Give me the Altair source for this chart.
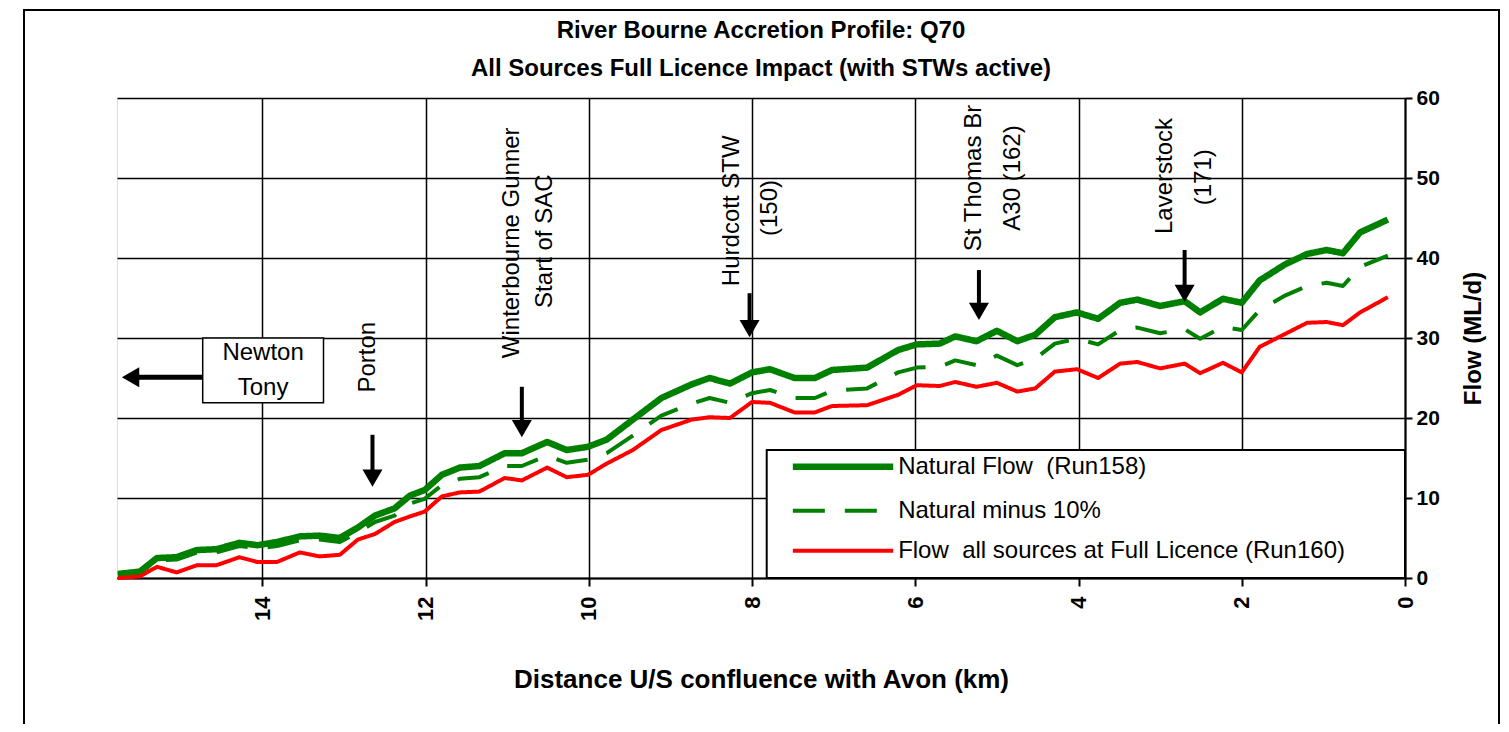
import altair as alt
import pandas as pd

# ---------------- data ----------------
km = [15.77, 15.50, 15.29, 15.05, 14.80, 14.56, 14.28, 14.06, 13.82, 13.54,
      13.30, 13.05, 12.83, 12.62, 12.38, 12.19, 12.01, 11.80, 11.58, 11.34,
      11.03, 10.82, 10.51, 10.27, 10.01, 9.78, 9.46, 9.11, 8.74, 8.52,
      8.27, 8.00, 7.78, 7.48, 7.23, 7.02, 6.59, 6.21, 5.98, 5.70,
      5.51, 5.25, 5.00, 4.75, 4.53, 4.29, 4.02, 3.76, 3.49, 3.28,
      3.00, 2.70, 2.51, 2.23, 2.00, 1.78, 1.47, 1.20, 0.96, 0.76,
      0.55, 0.21]

natural_flow = [0.5, 0.8, 2.5, 2.6, 3.5, 3.6, 4.4, 4.1, 4.5, 5.2,
                5.3, 5.0, 6.3, 7.8, 8.7, 10.3, 11.0, 12.9, 13.8, 14.0,
                15.6, 15.6, 17.0, 16.0, 16.4, 17.3, 19.8, 22.5, 24.2, 25.0,
                24.3, 25.7, 26.1, 25.0, 25.0, 26.0, 26.3, 28.5, 29.2, 29.3,
                30.2, 29.6, 30.9, 29.6, 30.4, 32.6, 33.2, 32.4, 34.4, 34.8,
                34.0, 34.6, 33.2, 34.9, 34.4, 37.2, 39.2, 40.5, 41.0, 40.6,
                43.2, 44.8]

natural_minus_10 = [0.4, 0.7, 2.2, 2.3, 3.2, 3.2, 4.0, 3.7, 4.0, 4.7,
                    4.8, 4.5, 5.7, 7.0, 7.8, 9.3, 9.9, 11.6, 12.4, 12.6,
                    14.0, 14.0, 15.3, 14.4, 14.8, 15.6, 17.8, 20.3, 21.8, 22.5,
                    21.9, 23.1, 23.5, 22.5, 22.5, 23.4, 23.7, 25.7, 26.3, 26.4,
                    27.2, 26.6, 27.8, 26.6, 27.4, 29.3, 29.9, 29.2, 31.0, 31.3,
                    30.6, 31.1, 29.9, 31.4, 31.0, 33.5, 35.3, 36.5, 36.9, 36.5,
                    38.9, 40.3]

full_licence = [0.0, 0.2, 1.4, 0.7, 1.6, 1.6, 2.6, 2.0, 2.0, 3.2,
                2.7, 2.9, 4.8, 5.5, 7.0, 7.7, 8.3, 10.2, 10.7, 10.8,
                12.5, 12.2, 13.8, 12.6, 12.9, 14.3, 16.0, 18.5, 19.8, 20.1,
                20.0, 22.0, 21.9, 20.7, 20.7, 21.5, 21.6, 22.9, 24.1, 24.0,
                24.5, 23.9, 24.4, 23.3, 23.7, 25.8, 26.1, 25.0, 26.8, 27.0,
                26.2, 26.8, 25.6, 26.9, 25.7, 28.9, 30.5, 31.9, 32.0, 31.6,
                33.2, 35.1]

series_names = ["Natural Flow\u00a0 (Run158)",
                "Natural minus 10%",
                "Flow\u00a0 all sources at Full Licence (Run160)"]
series_values = [natural_flow, natural_minus_10, full_licence]

title_lines = ["River Bourne Accretion Profile: Q70",
               "All Sources Full Licence Impact (with STWs active)"]

x_ticks = [0, 2, 4, 6, 8, 10, 12, 14]
y_ticks = [0, 10, 20, 30, 40, 50, 60]

# annotation labels (rotated)
ann_text = ["Porton", "Winterbourne Gunner", "Start of SAC", "Hurdcott STW", "(150)",
            "St Thomas Br", "A30 (162)", "Laverstock", "(171)"]
ann_km = [12.71, 10.94, 10.54, 8.25, 7.78, 5.28, 4.80, 2.94, 2.46]
ann_flow = [27.6, 41.9, 42.1, 45.9, 46.25, 50.0, 50.0, 50.25, 50.1]

# location arrows (pointing down)
arrow_km = [12.65, 10.82, 8.03, 5.22, 2.70]
arrow_top = [17.9, 23.9, 35.6, 38.5, 41.0]
arrow_tip = [11.4, 17.6, 30.1, 32.25, 34.5]

# Newton Tony box + arrow pointing left (upstream)
box_text = ["Newton", "Tony"]
box_text_flow = [28.1, 23.75]
box_km = [14.73, 13.25]
box_flow = [30.0, 21.9]
left_arrow_km = [14.73, 15.72]
left_arrow_flow = 25.1

# ---------------- styling ----------------
FONT = "Liberation Sans"
series_colors = ["#008000", "#008000", "#FF0000"]
series_dash = [[1, 0], [32, 20], [1, 0]]
series_width = [6.5, 4, 4]
legend_flow = [13.9, 8.4, 3.4]
legend_line_km = [7.50, 6.27]
legend_text_km = 6.21
legend_box_km = [7.82, 0.0]
legend_box_flow = [16.0, 0.0]

PLOT_W, PLOT_H = 1288, 480
PX_PER_KM = 81.6
PX_PER_FLOW = 8.0
HEAD_SIZE = 400
HEAD_H = (HEAD_SIZE ** 0.5) / 2 * 0.866

x_scale = alt.Scale(domain=[0, 15.78], reverse=True, nice=False, zero=False)
y_scale = alt.Scale(domain=[0, 60], nice=False)

x_axis = alt.Axis(values=x_ticks, format="d", labelAngle=270, labelFontSize=22,
                  labelFontWeight="bold", labelColor="black", labelFont=FONT,
                  labelPadding=10, labelOverlap=False, labelFlush=False,
                  tickSize=8, tickColor="black", tickWidth=2,
                  domainColor="black", domainWidth=2,
                  grid=True, gridColor="black", gridWidth=1.5, gridOpacity=1,
                  title="Distance U/S confluence with Avon (km)", titleFontSize=26,
                  titleFontWeight="bold", titleColor="black", titleFont=FONT,
                  titlePadding=46)
y_axis = alt.Axis(orient="right", values=y_ticks, format="d", labelFontSize=21,
                  labelFontWeight="bold", labelColor="black", labelFont=FONT,
                  labelPadding=4, labelOverlap=False, labelFlush=False,
                  tickSize=7, tickColor="black", tickWidth=2,
                  domainColor="black", domainWidth=2,
                  grid=True, gridColor="black", gridWidth=1.5, gridOpacity=1,
                  title="Flow (ML/d)", titleFontSize=24, titleFontWeight="bold",
                  titleColor="black", titleFont=FONT, titleAngle=270,
                  titleBaseline="top", titlePadding=22)


def X(field):
    return alt.X(field, type="quantitative", scale=x_scale, axis=x_axis)


def Y(field):
    return alt.Y(field, type="quantitative", scale=y_scale, axis=y_axis)


layers = []

# outer chart-area frame
frame = alt.Chart(pd.DataFrame({"k": [0]})).mark_rect(
    fillOpacity=0, stroke="black", strokeWidth=2
).encode(x=alt.value(-93), x2=alt.value(1382), y=alt.value(-88), y2=alt.value(700))
layers.append(frame)

# chart title (two bold lines above the plot)
for line, dy in zip(title_lines, [-67, -29]):
    layers.append(
        alt.Chart(pd.DataFrame({"t": [line]})).mark_text(
            align="center", baseline="middle", fontSize=24, fontWeight="bold",
            font=FONT, color="black"
        ).encode(x=alt.value(PLOT_W / 2), y=alt.value(dy), text="t")
    )

# series lines
for name, vals, col, dash, w in zip(series_names, series_values, series_colors,
                                      series_dash, series_width):
    df = pd.DataFrame({"km": km, "flow": vals, "series": name})
    layers.append(
        alt.Chart(df).mark_line(color=col, strokeDash=dash, strokeWidth=w,
                                strokeJoin="round")
        .encode(x=X("km"), y=Y("flow"))
    )

# legend box
lb = pd.DataFrame({"km": [legend_box_km[0]], "km2": [legend_box_km[1]],
                   "flow": [legend_box_flow[0]], "flow2": [legend_box_flow[1]]})
layers.append(
    alt.Chart(lb).mark_rect(fill="white", stroke="black", strokeWidth=2)
    .encode(x=X("km"), x2="km2", y=Y("flow"), y2="flow2")
)
for name, col, dash, w, ly in zip(series_names, series_colors, series_dash,
                                  series_width, legend_flow):
    d = pd.DataFrame({"km": [legend_line_km[0]], "km2": [legend_line_km[1]],
                      "flow": [ly], "tkm": [legend_text_km], "label": [name]})
    layers.append(
        alt.Chart(d).mark_rule(color=col, strokeDash=dash, strokeWidth=w)
        .encode(x=X("km"), x2="km2", y=Y("flow"))
    )
    layers.append(
        alt.Chart(d).mark_text(align="left", baseline="middle", fontSize=24,
                               font=FONT, color="black")
        .encode(x=X("tkm"), y=Y("flow"), text="label")
    )

# Newton Tony box
nb = pd.DataFrame({"km": [box_km[0]], "km2": [box_km[1]],
                   "flow": [box_flow[0]], "flow2": [box_flow[1]]})
layers.append(
    alt.Chart(nb).mark_rect(fill="white", stroke="black", strokeWidth=1.5)
    .encode(x=X("km"), x2="km2", y=Y("flow"), y2="flow2")
)
nt = pd.DataFrame({"km": [(box_km[0] + box_km[1]) / 2] * 2, "flow": box_text_flow,
                   "label": box_text})
layers.append(
    alt.Chart(nt).mark_text(align="center", baseline="middle", fontSize=24,
                            font=FONT, color="black")
    .encode(x=X("km"), y=Y("flow"), text="label")
)
# left arrow
head_km = left_arrow_km[1] - HEAD_H / PX_PER_KM
la = pd.DataFrame({"km": [left_arrow_km[0]], "km2": [head_km],
                   "flow": [left_arrow_flow]})
layers.append(
    alt.Chart(la).mark_rule(color="black", strokeWidth=5)
    .encode(x=X("km"), x2="km2", y=Y("flow"))
)
lh = pd.DataFrame({"km": [head_km], "flow": [left_arrow_flow]})
layers.append(
    alt.Chart(lh).mark_point(shape="triangle-left", filled=True, size=HEAD_SIZE,
                             color="black", opacity=1)
    .encode(x=X("km"), y=Y("flow"))
)

# down arrows
head_flow = [t + HEAD_H / PX_PER_FLOW for t in arrow_tip]
ad = pd.DataFrame({"km": arrow_km, "flow": arrow_top, "flow2": head_flow})
layers.append(
    alt.Chart(ad).mark_rule(color="black", strokeWidth=4)
    .encode(x=X("km"), y=Y("flow"), y2="flow2")
)
ah = pd.DataFrame({"km": arrow_km, "flow": head_flow})
layers.append(
    alt.Chart(ah).mark_point(shape="triangle-down", filled=True, size=HEAD_SIZE,
                             color="black", opacity=1)
    .encode(x=X("km"), y=Y("flow"))
)

# rotated annotation labels
at = pd.DataFrame({"km": ann_km, "flow": ann_flow, "label": ann_text})
layers.append(
    alt.Chart(at).mark_text(angle=270, align="center", baseline="middle",
                            fontSize=24, font=FONT, color="black")
    .encode(x=X("km"), y=Y("flow"), text="label")
)

chart = alt.layer(*layers).properties(
    width=PLOT_W,
    height=PLOT_H,
    autosize=alt.AutoSizeParams(type="none"),
    padding={"left": 109, "top": 90, "right": 96, "bottom": 146},
).configure_view(stroke="black", strokeWidth=2).configure(background="white")

chart.save("out.html", embed_options={"renderer": "svg", "actions": False})
